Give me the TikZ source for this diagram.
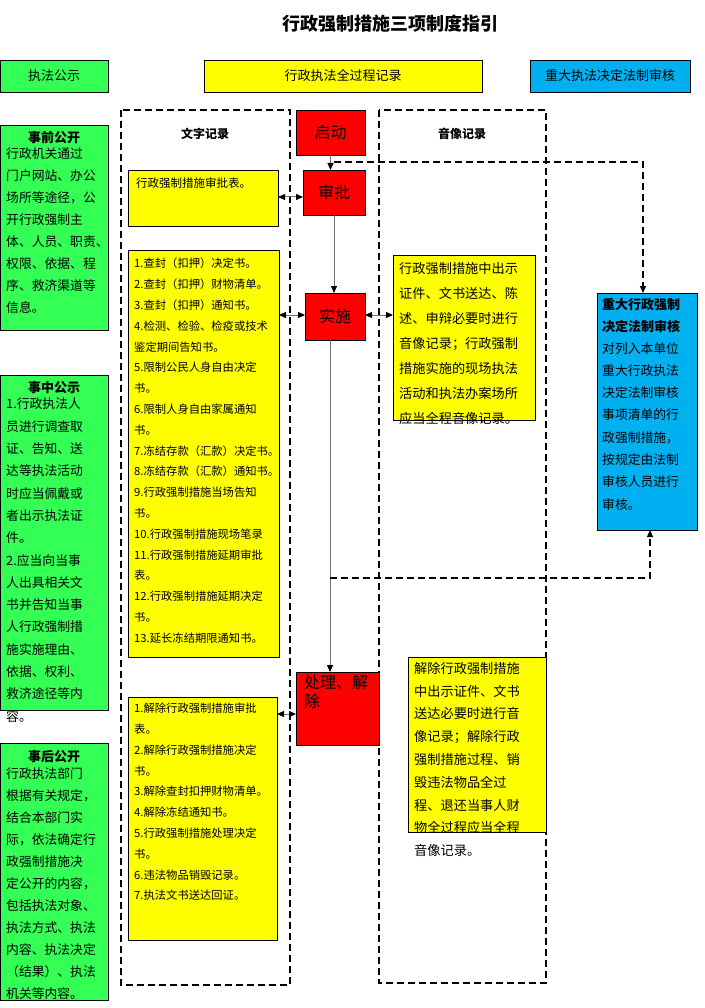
\documentclass[tikz,border=0pt]{standalone}
\usepackage{fontspec}
\setmainfont{Noto Sans CJK SC}
\usetikzlibrary{arrows.meta}
\definecolor{gr}{RGB}{51,255,85}
\definecolor{ye}{RGB}{255,255,0}
\definecolor{cy}{RGB}{0,176,240}
\definecolor{rd}{RGB}{255,0,0}
\tikzset{
 box/.style={draw=black,line width=0.8pt,inner sep=0pt},
 txt/.style={anchor=north west,align=left,inner sep=0pt},
 flow/.style={draw=black!55,line width=1pt,-{Triangle[length=7pt,width=6pt,color=black]}},
 dbl/.style={draw=black!55,line width=1pt,{Triangle[length=7pt,width=6pt,color=black]}-{Triangle[length=7pt,width=6pt,color=black]}},
 dsh/.style={draw=black,line width=1.3pt,dash pattern=on 7pt off 4pt},
}
\begin{document}
\begin{tikzpicture}[x=1pt,y=-1pt]
\useasboundingbox (0,0) rectangle (704,1008);
\fill[white] (0,0) rectangle (704,1008);
\node[font=\bfseries\fontsize{18}{20}\selectfont] (title) at (390,24) {行政强制措施三项制度指引};
% header
\draw[box,fill=gr] (0,60) rectangle (108,92); \node (h1) at (54,76) {\fontsize{13}{15}\selectfont 执法公示};
\draw[box,fill=ye] (204,60) rectangle (482,92); \node (h2) at (343,76) {\fontsize{13}{15}\selectfont 行政执法全过程记录};
\draw[box,fill=cy] (530,60) rectangle (690,92); \node (h3) at (610,76) {\fontsize{13}{15}\selectfont 重大执法决定法制审核};
% dashed columns
\draw[dsh] (121,110) rectangle (290,985);
\draw[dsh] (379,110) rectangle (546,983);
\node[font=\bfseries\fontsize{12}{14}\selectfont] (c1) at (205,134) {文字记录};
\node[font=\bfseries\fontsize{12}{14}\selectfont] (c2) at (462,134) {音像记录};
% green boxes
\draw[box,fill=gr] (0,125) rectangle (108,330);
\node[font=\bfseries\fontsize{13}{15}\selectfont] (g1t) at (54,138) {事前公开};
\node[txt,font=\fontsize{12.8}{22}\selectfont] (g1) at (6,148) {行政机关通过\\门户网站、办公\\场所等途径，公\\开行政强制主\\体、人员、职责、\\权限、依据、程\\序、救济渠道等\\信息。};
\draw[box,fill=gr] (0,375) rectangle (108,710);
\node[font=\bfseries\fontsize{13}{15}\selectfont] (g2t) at (54,388) {事中公示};
\node[txt,font=\fontsize{12.8}{22.3}\selectfont] (g2) at (6,398) {1.行政执法人\\员进行调查取\\证、告知、送\\达等执法活动\\时应当佩戴或\\者出示执法证\\件。\\2.应当向当事\\人出具相关文\\书并告知当事\\人行政强制措\\施实施理由、\\依据、权利、\\救济途径等内\\容。};
\draw[box,fill=gr] (0,743) rectangle (108,1000);
\node[font=\bfseries\fontsize{13}{15}\selectfont] (g3t) at (54,757) {事后公开};
\node[txt,font=\fontsize{12.8}{22}\selectfont] (g3) at (6,767) {行政执法部门\\根据有关规定，\\结合本部门实\\际，依法确定行\\政强制措施决\\定公开的内容，\\包括执法对象、\\执法方式、执法\\内容、执法决定\\（结果）、执法\\机关等内容。};
% red boxes
\draw[box,fill=rd] (296,110) rectangle (365,155); \node (qd) at (330.5,132.5) {\fontsize{16}{18}\selectfont 启动};
\draw[box,fill=rd] (303,170) rectangle (365,215); \node (sp) at (334,192.5) {\fontsize{16}{18}\selectfont 审批};
\draw[box,fill=rd] (305,293) rectangle (365,340); \node (ss) at (335,316.5) {\fontsize{16}{18}\selectfont 实施};
\draw[box,fill=rd] (296,672) rectangle (379,745);
\node[txt,font=\fontsize{16}{19}\selectfont] (cl) at (304,675) {处理、解\\除};
% yellow left
\draw[box,fill=ye] (128,170) rectangle (278,226);
\node[txt,font=\fontsize{11.5}{14}\selectfont] (y1) at (136,178) {行政强制措施审批表。};
\draw[box,fill=ye] (128,250) rectangle (279,657);
\node[txt,font=\fontsize{11.3}{20.8}\selectfont] (y2) at (134,258) {1.查封（扣押）决定书。\\2.查封（扣押）财物清单。\\3.查封（扣押）通知书。\\4.检测、检验、检疫或技术\\鉴定期间告知书。\\5.限制公民人身自由决定\\书。\\6.限制人身自由家属通知\\书。\\7.冻结存款（汇款）决定书。\\8.冻结存款（汇款）通知书。\\9.行政强制措施当场告知\\书。\\10.行政强制措施现场笔录\\11.行政强制措施延期审批\\表。\\12.行政强制措施延期决定\\书。\\13.延长冻结期限通知书。};
\draw[box,fill=ye] (128,697) rectangle (277,940);
\node[txt,font=\fontsize{11.3}{20.8}\selectfont] (y3) at (134,703) {1.解除行政强制措施审批\\表。\\2.解除行政强制措施决定\\书。\\3.解除查封扣押财物清单。\\4.解除冻结通知书。\\5.行政强制措施处理决定\\书。\\6.违法物品销毁记录。\\7.执法文书送达回证。};
% yellow right
\draw[box,fill=ye] (393,255) rectangle (535,420);
\node[txt,font=\fontsize{13.2}{25}\selectfont] (y4) at (399,262) {行政强制措施中出示\\证件、文书送达、陈\\述、申辩必要时进行\\音像记录；行政强制\\措施实施的现场执法\\活动和执法办案场所\\应当全程音像记录。};
\draw[box,fill=ye] (408,657) rectangle (546,832);
\node[txt,font=\fontsize{13.2}{22.8}\selectfont] (y5) at (414,662) {解除行政强制措施\\中出示证件、文书\\送达必要时进行音\\像记录；解除行政\\强制措施过程、销\\毁违法物品全过\\程、退还当事人财\\物全过程应当全程\\音像记录。};
% cyan
\draw[box,fill=cy] (597,293) rectangle (697,530);
\node[txt,font=\bfseries\fontsize{13}{22}\selectfont] (cy1) at (602,298) {重大行政强制\\决定法制审核};
\node[txt,font=\fontsize{12.8}{22.3}\selectfont] (cy2) at (602,342) {对列入本单位\\重大行政执法\\决定法制审核\\事项清单的行\\政强制措施，\\按规定由法制\\审核人员进行\\审核。};
% coordinates
\coordinate (a1) at (330.5,155); \coordinate (a2) at (330.5,170);
\coordinate (b1) at (334,215); \coordinate (b2) at (334,293);
\coordinate (c1a) at (330,340); \coordinate (c2a) at (330,672);
\coordinate (d1) at (303,197); \coordinate (d2) at (278,197);
\coordinate (e1) at (305,315); \coordinate (e2) at (279,315);
\coordinate (f1) at (365,315); \coordinate (f2) at (393,315);
\coordinate (k1) at (296,714); \coordinate (k2) at (277,714);
\coordinate (p0) at (334,162); \coordinate (p1) at (643,162); \coordinate (p2) at (643,293);
\coordinate (q0) at (330,578); \coordinate (q1) at (650,578); \coordinate (q2) at (650,530);
\draw[flow] (a1) -- (a2);
\draw[flow] (b1) -- (b2);
\draw[flow] (c1a) -- (c2a);
\draw[dbl] (d1) -- (d2);
\draw[dbl] (e1) -- (e2);
\draw[dbl] (f1) -- (f2);
\draw[dbl] (k1) -- (k2);
\draw[dsh,-{Triangle[length=7pt,width=6pt]}] (p0) -- (p1) -- (p2);
\draw[dsh,-{Triangle[length=7pt,width=6pt]}] (q0) -- (q1) -- (q2);
\end{tikzpicture}
\end{document}
